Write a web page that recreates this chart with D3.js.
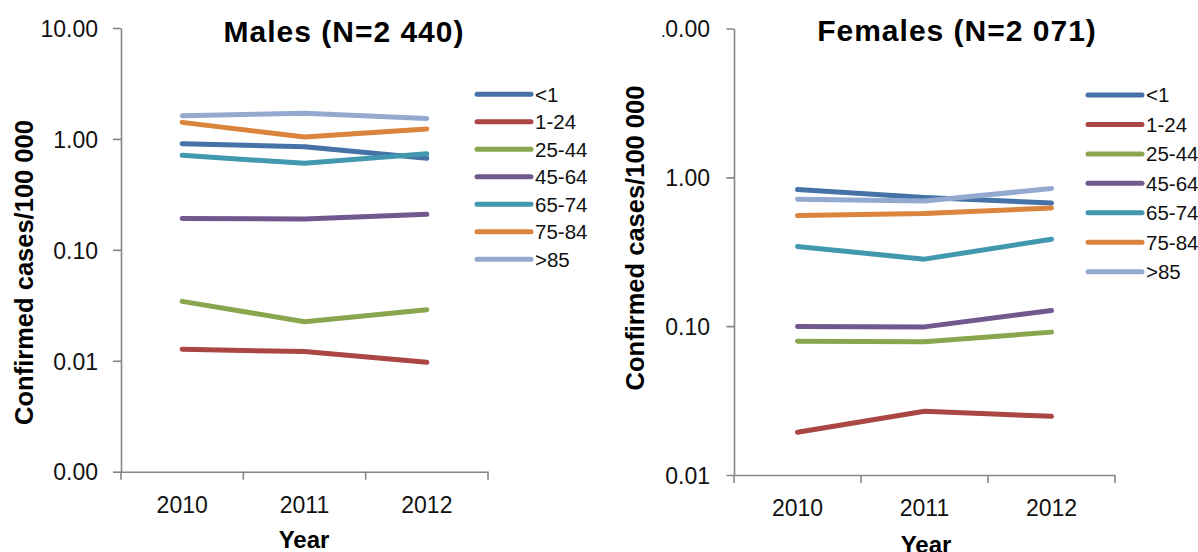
<!DOCTYPE html>
<html>
<head>
<meta charset="utf-8">
<script src="https://cdn.jsdelivr.net/npm/d3@7"></script>
<style>
  html, body { margin: 0; padding: 0; background: #fff; }
  svg { display: block; }
  .tick text { font-family: "Liberation Sans", Arial, sans-serif; font-size: 23px; fill: #111; }
  .axis path, .axis line { stroke: #868686; stroke-width: 1.6px; }
  .title { font-family: "Liberation Sans", Arial, sans-serif; font-weight: bold; font-size: 30px; letter-spacing: 1px; fill: #000; }
  .axis-label { font-family: "Liberation Sans", Arial, sans-serif; font-weight: bold; fill: #000; }
  .legend text { font-family: "Liberation Sans", Arial, sans-serif; font-size: 20.5px; fill: #111; }
</style>
</head>
<body>
<svg id="chart" width="1198" height="552"></svg>
<script>
// Confirmed cases per 100 000 by age group, 2010-2012
const years = ["2010", "2011", "2012"];
const ageGroups = ["<1", "1-24", "25-44", "45-64", "65-74", "75-84", ">85"];
const groupColors = ["#4572A7", "#AA4643", "#89A54E", "#71588F", "#4198AF", "#DB843D", "#93A9CF"];

// one row per age group, in the order of ageGroups
const maleRates = [
  [0.905, 0.850, 0.668],
  [0.0127, 0.0121, 0.0097],
  [0.0343, 0.0225, 0.0288],
  [0.192, 0.190, 0.209],
  [0.711, 0.603, 0.735],
  [1.41, 1.04, 1.23],
  [1.62, 1.70, 1.53]
];
const femaleRates = [
  [0.827, 0.731, 0.672],
  [0.0194, 0.0268, 0.0248],
  [0.0793, 0.0785, 0.0912],
  [0.0995, 0.0989, 0.1274],
  [0.343, 0.282, 0.384],
  [0.553, 0.571, 0.622],
  [0.712, 0.693, 0.840]
];

const maleTicks = [0.001, 0.01, 0.1, 1, 10];
const femaleTicks = [0.01, 0.1, 1, 10];

const svg = d3.select("#chart");
const fmt = d3.format(".2f");
const defs = svg.append("defs");

function drawPanel(cfg) {
  const g = svg.append("g");
  const x = d3.scaleBand().domain(years).range([cfg.x0, cfg.x1]);
  const y = d3.scaleLog().domain(cfg.domain).range([cfg.yBottom, cfg.yTop]);

  // y axis
  const yAxis = g.append("g").attr("class", "axis")
    .attr("transform", `translate(${cfg.x0},0)`)
    .call(d3.axisLeft(y).tickValues(cfg.ticks).tickFormat(fmt)
      .tickSize(cfg.yTickSize).tickSizeOuter(0).tickPadding(cfg.yTickPad));
  yAxis.selectAll(".tick text").attr("dy", "0.36em");
  if (cfg.clipLeft != null) {
    // panel edge: anything left of clipLeft is hidden (in the axis group's own coordinates)
    const id = "clip" + cfg.x0;
    defs.append("clipPath").attr("id", id)
      .append("rect").attr("x", cfg.clipLeft - cfg.x0).attr("y", 0)
      .attr("width", 600).attr("height", 552);
    yAxis.attr("clip-path", `url(#${id})`);
  }

  // x axis: labels centred in each band, tick marks on band boundaries
  const xAxis = g.append("g").attr("class", "axis")
    .attr("transform", `translate(0,${cfg.yBottom})`)
    .call(d3.axisBottom(x).tickSize(0).tickSizeOuter(0).tickPadding(cfg.xLabelPad));
  const bounds = years.map(d => x(d)).concat([x(years[years.length - 1]) + x.bandwidth()]);
  xAxis.selectAll(".bound").data(bounds).join("line").attr("class", "bound")
    .attr("x1", d => d).attr("x2", d => d).attr("y1", 0).attr("y2", 8);

  // series lines
  const line = d3.line()
    .x((d, i) => x(years[i]) + x.bandwidth() / 2)
    .y(d => y(d));
  g.selectAll(".series").data(cfg.rates).join("path").attr("class", "series")
    .attr("d", line)
    .attr("fill", "none")
    .attr("stroke", (d, i) => groupColors[i])
    .attr("stroke-width", 5)
    .attr("stroke-linecap", "round")
    .attr("stroke-linejoin", "round");

  // title
  g.append("text").attr("class", "title")
    .attr("x", cfg.titleX).attr("y", cfg.titleY).attr("text-anchor", "middle")
    .text(cfg.title);

  // y axis title
  g.append("text").attr("class", "axis-label")
    .attr("transform", `translate(${cfg.yLabelX},${cfg.yLabelY}) rotate(-90)`)
    .attr("text-anchor", "middle").attr("dy", "0.36em")
    .style("font-size", "25.5px")
    .text("Confirmed cases/100 000");

  // x axis title
  g.append("text").attr("class", "axis-label")
    .attr("x", cfg.xLabelX).attr("y", cfg.xLabelY).attr("text-anchor", "middle")
    .style("font-size", "24px")
    .text("Year");

  // legend
  const leg = g.append("g").attr("class", "legend");
  const rows = leg.selectAll("g").data(ageGroups).join("g")
    .attr("transform", (d, i) => `translate(${cfg.legX},${cfg.legY + i * cfg.legStep})`);
  rows.append("line").attr("x1", 0).attr("x2", 54).attr("y1", 0).attr("y2", 0)
    .attr("stroke", (d, i) => groupColors[i]).attr("stroke-width", 5)
    .attr("stroke-linecap", "round");
  rows.append("text").attr("x", 58).attr("y", 0).attr("dy", "0.36em").text(d => d);
}

drawPanel({
  title: "Males (N=2 440)", titleX: 344, titleY: 42,
  x0: 121, x1: 488, yTop: 28, yBottom: 471.7,
  domain: [0.001, 10], ticks: maleTicks, rates: maleRates,
  yTickSize: 8, yTickPad: 15, xLabelPad: 25,
  yLabelX: 23.5, yLabelY: 272.5, xLabelX: 304, xLabelY: 548,
  legX: 477, legY: 94.3, legStep: 27.5, clipLeft: null
});

drawPanel({
  title: "Females (N=2 071)", titleX: 957, titleY: 41,
  x0: 734, x1: 1115, yTop: 28.5, yBottom: 475,
  domain: [0.01, 10], ticks: femaleTicks, rates: femaleRates,
  yTickSize: 7.5, yTickPad: 16.5, xLabelPad: 25,
  yLabelX: 635, yLabelY: 238, xLabelX: 926, xLabelY: 553,
  legX: 1088, legY: 95, legStep: 29.45, clipLeft: 662.5
});
</script>
</body>
</html>
